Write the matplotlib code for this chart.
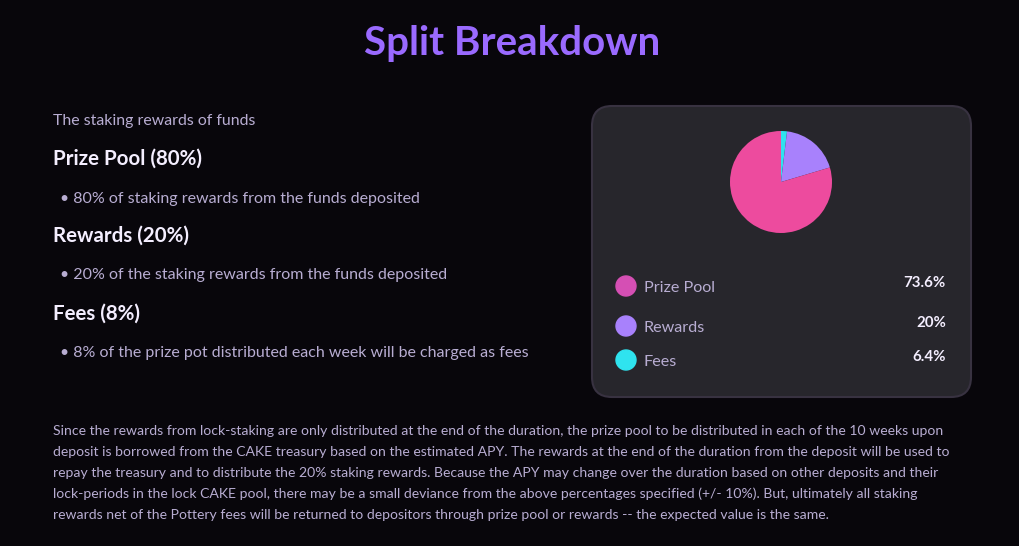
import matplotlib
matplotlib.use("Agg")
import matplotlib.pyplot as plt
from matplotlib.patches import FancyBboxPatch, Circle

# pie slices, clockwise from 12 o'clock
slice_names = ["Fees", "Rewards", "Prize Pool"]
slice_values = [1.9, 18.5, 79.6]
slice_colors = ["#2FE3EF", "#A881FC", "#ED4B9E"]

# legend rows
legend_names = ["Prize Pool", "Rewards", "Fees"]
legend_values = ["73.6%", "20%", "6.4%"]
legend_dots = ["#D54FB4", "#A881FC", "#2FE3EF"]

intro = "The staking rewards of funds"
headings = ["Prize Pool (80%)", "Rewards (20%)", "Fees (8%)"]
bullets = [
    "80% of staking rewards from the funds deposited",
    "20% of the staking rewards from the funds deposited",
    "8% of the prize pot distributed each week will be charged as fees",
]
paragraph = [
    "Since the rewards from lock-staking are only distributed at the end of the duration, the prize pool to be distributed in each of the 10 weeks upon",
    "deposit is borrowed from the CAKE treasury based on the estimated APY. The rewards at the end of the duration from the deposit will be used to",
    "repay the treasury and to distribute the 20% staking rewards. Because the APY may change over the duration based on other deposits and their",
    "lock-periods in the lock CAKE pool, there may be a small deviance from the above percentages specified (+/- 10%). But, ultimately all staking",
    "rewards net of the Pottery fees will be returned to depositors through prize pool or rewards -- the expected value is the same.",
]

BG = "#08060B"
SUBTLE = "#B8ADD2"
WHITE = "#F4EEFF"
plt.rcParams["font.family"] = ["Lato", "DejaVu Sans"]

W, H = 1020, 546
fig = plt.figure(figsize=(W / 100, H / 100), dpi=100, facecolor=BG)
ax = fig.add_axes([0, 0, 1, 1])
ax.set_xlim(0, W)
ax.set_ylim(H, 0)
ax.set_axis_off()

ax.text(512, 43, "Split Breakdown", color="#9A6AFF", fontsize=29,
        fontweight="bold", ha="center", va="center")

# left column
ax.text(53, 120.5, intro, color=SUBTLE, fontsize=11.4, va="center")
head_y = [159, 236, 314]
bullet_y = [198.5, 275.5, 353.5]
for t, y in zip(headings, head_y):
    ax.text(53, y, t, color=WHITE, fontsize=14.8, fontweight="bold", va="center")
for t, y in zip(bullets, bullet_y):
    ax.text(60, y, "\u2022 " + t, color=SUBTLE, fontsize=11.55, va="center")

# bottom paragraph
for i, line in enumerate(paragraph):
    ax.text(53, 431 + i * 21, line, color=SUBTLE, fontsize=10.05, va="center")

# card
card = FancyBboxPatch((592, 106), 379, 291,
                      boxstyle="round,pad=0,rounding_size=20",
                      facecolor="#27262C", edgecolor="#383241", linewidth=1.5)
ax.add_patch(card)

row_y = [286, 326, 360]
for name, val, c, y in zip(legend_names, legend_values, legend_dots, row_y):
    ax.add_patch(Circle((626, y), 10, color=c))
    ax.text(644, y + 2, name, color=SUBTLE, fontsize=11.6, va="center")
    ax.text(946, y - 3, val, color=WHITE, fontsize=10.8, fontweight="bold",
            ha="right", va="center")

# pie
cx, cy, r = 781, 182, 51
pax = fig.add_axes([(cx - r) / W, 1 - (cy + r) / H, 2 * r / W, 2 * r / H])
pax.pie(slice_values, colors=slice_colors, startangle=90, counterclock=False,
        radius=1, wedgeprops=dict(linewidth=0))
pax.set_xlim(-1, 1)
pax.set_ylim(-1, 1)
pax.set_aspect("equal")
pax.set_axis_off()

fig.savefig("out.png", dpi=100, facecolor=BG)
